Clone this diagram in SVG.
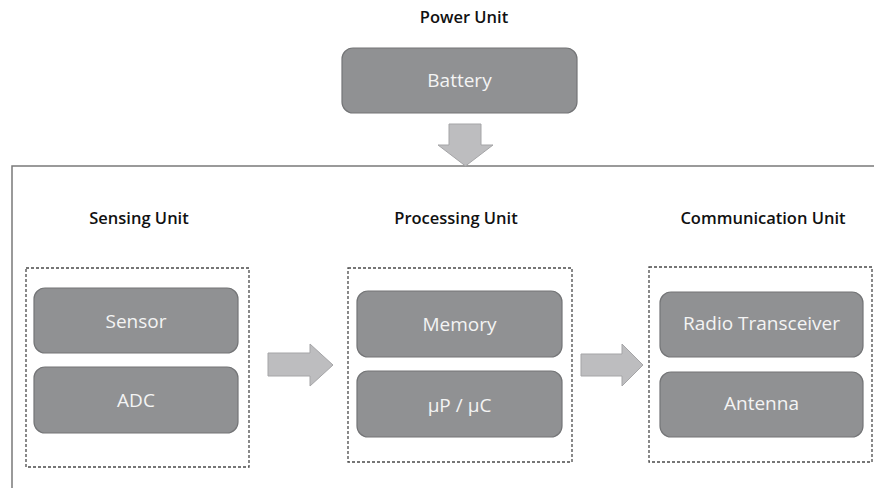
<svg xmlns="http://www.w3.org/2000/svg" width="874" height="488" viewBox="0 0 874 488">
<style>
.hdr{font-family:"Open Sans","Liberation Sans",sans-serif;font-size:16.5px;font-weight:600;fill:#111;text-anchor:middle}
.box{fill:#909193;stroke:#747577;stroke-width:1.2}
.lbl{font-family:"Open Sans","Liberation Sans",sans-serif;font-size:19px;fill:#f4f4f4;text-anchor:middle}
.dash{fill:none;stroke:#4a4a4a;stroke-width:1.3;stroke-dasharray:3 2}
.arr{fill:#bdbdbf;stroke:#a5a5a7;stroke-width:1}
.frame{fill:none;stroke:#7a7a7a;stroke-width:1.5}
</style>
<rect width="874" height="488" fill="#ffffff"/>
<path class="frame" d="M12,488 V166 H874"/>
<g id="power-unit">
<text class="hdr" x="464" y="23">Power Unit</text>
<g id="battery">
<rect class="box" x="342" y="48" width="235" height="65" rx="11"/>
<text class="lbl" x="459.5" y="87">Battery</text>
</g>
</g>
<g id="sensing-unit">
<text class="hdr" x="139" y="224">Sensing Unit</text>
<rect class="dash" x="26" y="268" width="223" height="199"/>
<g id="sensor">
<rect class="box" x="34" y="288" width="204" height="65" rx="11"/>
<text class="lbl" x="136" y="328">Sensor</text>
</g>
<g id="adc">
<rect class="box" x="34" y="367" width="204" height="66" rx="11"/>
<text class="lbl" x="136" y="407">ADC</text>
</g>
</g>
<g id="processing-unit">
<text class="hdr" x="456" y="224">Processing Unit</text>
<rect class="dash" x="348" y="268" width="224" height="194"/>
<g id="memory">
<rect class="box" x="357" y="291" width="205" height="66" rx="11"/>
<text class="lbl" x="459.5" y="331">Memory</text>
</g>
<g id="mpmc">
<rect class="box" x="357" y="371" width="205" height="66" rx="11"/>
<text class="lbl" x="459.5" y="412">µP / µC</text>
</g>
</g>
<g id="communication-unit">
<text class="hdr" x="763" y="224">Communication Unit</text>
<rect class="dash" x="649" y="267" width="223" height="195"/>
<g id="radio">
<rect class="box" x="660" y="292" width="203" height="65" rx="11"/>
<text class="lbl" x="761.5" y="330">Radio Transceiver</text>
</g>
<g id="antenna">
<rect class="box" x="660" y="372" width="203" height="65" rx="11"/>
<text class="lbl" x="761.5" y="410">Antenna</text>
</g>
</g>
<g id="connectors">
<polygon class="arr" points="449,124 481,124 481,145 493,145 465.5,166 438,145 449,145"/>
<polygon class="arr" points="268,353 310,353 310,344 333,365 310,386 310,376 268,376"/>
<polygon class="arr" points="581,354 622,354 622,344 643,365 622,386 622,376 581,376"/>
</g>
</svg>
